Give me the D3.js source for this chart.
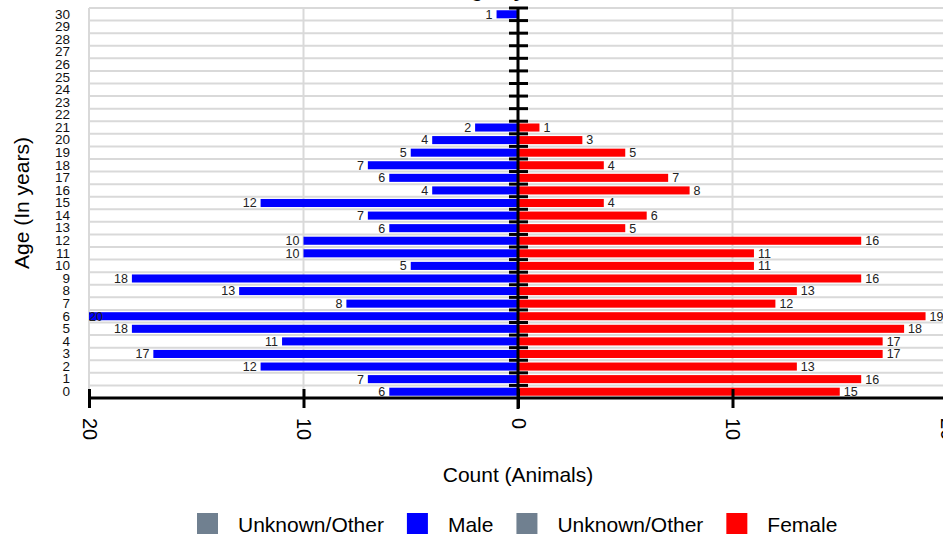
<!DOCTYPE html>
<html>
<head>
<meta charset="utf-8">
<script src="https://cdn.jsdelivr.net/npm/d3@7"></script>
<style>
  body { margin: 0; background: #fff; }
  svg { display: block; font-family: "Liberation Sans", Arial, sans-serif; }
</style>
</head>
<body>
<div id="staticBody"></div>
<script>
var ages = d3.range(0, 31)
var male = [6, 7, 12, 17, 11, 18, 20, 8, 13, 18, 5, 10, 10, 6, 7, 12, 4, 6, 7, 5, 4, 2, 0, 0, 0, 0, 0, 0, 0, 0, 1]
var female = [15, 16, 13, 17, 17, 18, 19, 12, 13, 16, 11, 11, 16, 5, 6, 4, 8, 7, 4, 5, 3, 1, 0, 0, 0, 0, 0, 0, 0, 0, 0]
var xTicks = [-20, -10, 0, 10, 20]
var legendLabels = ["Unknown/Other", "Male", "Unknown/Other", "Female"]
var legendColors = ["#708090", "#0000ff", "#708090", "#ff0000"]

var width = 943, height = 537
var margin = { top: 8, left: 89, bottom: 139 }
var plotBottom = height - margin.bottom

var svg = d3.select('#staticBody').append('svg')
    .attr('width', width)
    .attr('height', height)

var x = d3.scaleLinear()
    .domain([-20, 20])
    .range([margin.left, 947])

var y = d3.scaleBand()
    .domain(ages.slice().reverse())
    .range([margin.top, plotBottom])
    .paddingInner(0.36)
    .paddingOuter(0.18)

var step = y.step()

// title, mostly above the visible area
svg.append("text")
    .attr("x", x(0))
    .attr("y", -3)
    .attr("text-anchor", "middle")
    .style("font-size", "20px")
    .style("font-weight", "bold")
    .text("Age Pyramid")

// grid
var grid = svg.append("g")
grid.selectAll("line.h")
    .data(d3.range(0, ages.length))
    .enter().append("line")
    .attr("x1", margin.left)
    .attr("x2", width)
    .attr("y1", function(d){ return margin.top + d * step; })
    .attr("y2", function(d){ return margin.top + d * step; })
    .attr("stroke", "#d9d9d9")
    .attr("stroke-width", 2)
grid.selectAll("line.v")
    .data(xTicks.filter(function(d){ return d != 0; }))
    .enter().append("line")
    .attr("x1", function(d){ return x(d); })
    .attr("x2", function(d){ return x(d); })
    .attr("y1", margin.top)
    .attr("y2", plotBottom)
    .attr("stroke", "#d9d9d9")
    .attr("stroke-width", 2)

// bars
svg.selectAll("rect.male")
    .data(ages.filter(function(a){ return male[a] > 0; }))
    .enter().append("rect")
    .attr("x", function(a){ return x(-male[a]); })
    .attr("y", function(a){ return y(a); })
    .attr("width", function(a){ return x(0) - x(-male[a]); })
    .attr("height", y.bandwidth())
    .attr("fill", "#0000ff")

svg.selectAll("rect.female")
    .data(ages.filter(function(a){ return female[a] > 0; }))
    .enter().append("rect")
    .attr("x", x(0))
    .attr("y", function(a){ return y(a); })
    .attr("width", function(a){ return x(female[a]) - x(0); })
    .attr("height", y.bandwidth())
    .attr("fill", "#ff0000")

// value labels
svg.selectAll("text.mlab")
    .data(ages.filter(function(a){ return male[a] > 0; }))
    .enter().append("text")
    .attr("class", "mlab")
    .attr("y", function(a){ return y(a) + y.bandwidth() / 2; })
    .attr("dy", "0.35em")
    .style("font-size", "12.5px")
    .style("fill", "#222")
    .text(function(a){ return male[a]; })
    .each(function(a){
        var w = this.getComputedTextLength()
        var xe = x(-male[a]) - 4
        if (xe - w < margin.left) {
            d3.select(this).attr("x", margin.left).attr("text-anchor", "start")
        } else {
            d3.select(this).attr("x", xe).attr("text-anchor", "end")
        }
    })

svg.selectAll("text.flab")
    .data(ages.filter(function(a){ return female[a] > 0; }))
    .enter().append("text")
    .attr("class", "flab")
    .attr("x", function(a){ return x(female[a]) + 4; })
    .attr("y", function(a){ return y(a) + y.bandwidth() / 2; })
    .attr("dy", "0.35em")
    .style("font-size", "12.5px")
    .style("fill", "#222")
    .text(function(a){ return female[a]; })

// center axis with ticks at band edges
svg.append("line")
    .attr("x1", x(0)).attr("x2", x(0))
    .attr("y1", margin.top - 1).attr("y2", plotBottom + 11)
    .attr("stroke", "#000").attr("stroke-width", 3)
svg.selectAll("line.ctick")
    .data(d3.range(0, ages.length))
    .enter().append("line")
    .attr("x1", x(0) - 9).attr("x2", x(0) + 10)
    .attr("y1", function(d){ return margin.top + d * step; })
    .attr("y2", function(d){ return margin.top + d * step; })
    .attr("stroke", "#000").attr("stroke-width", 3)

// y axis labels
var yAxis = d3.axisLeft(y).tickSize(0).tickPadding(0)
var yg = svg.append("g")
    .attr("transform", "translate(" + (margin.left - 19) + ",0)")
    .call(yAxis)
yg.select(".domain").remove()
yg.selectAll("text")
    .style("font-family", "'Liberation Sans Narrow', 'Liberation Sans', Arial, sans-serif")
    .style("font-size", "13.5px")
    .style("fill", "#111")

// x axis
var xAxis = d3.axisBottom(x).tickValues(xTicks).tickSize(0).tickFormat(function(d){ return Math.abs(d); })
var xg = svg.append("g")
    .attr("transform", "translate(0," + plotBottom + ")")
    .call(xAxis)
xg.select(".domain").remove()
xg.append("line")
    .attr("x1", margin.left).attr("x2", width)
    .attr("y1", 0).attr("y2", 0)
    .attr("stroke", "#000").attr("stroke-width", 3)
xg.selectAll(".tick").append("line")
    .attr("y1", -9).attr("y2", 10)
    .attr("stroke", "#000").attr("stroke-width", 3)
xg.selectAll(".tick text")
    .attr("transform", "rotate(90)")
    .attr("x", 20)
    .attr("y", 0)
    .attr("dy", "0.35em")
    .attr("text-anchor", "start")
    .style("font-size", "20px")
    .style("fill", "#000")

// axis titles
svg.append("text")
    .attr("x", x(0))
    .attr("y", 482)
    .attr("text-anchor", "middle")
    .style("font-size", "21px")
    .text("Count (Animals)")

svg.append("text")
    .attr("transform", "translate(29," + ((margin.top + plotBottom) / 2) + ")rotate(-90)")
    .attr("text-anchor", "middle")
    .style("font-size", "21px")
    .text("Age (In years)")

// legend
var legend = svg.append("g")
var lx = 197
legendLabels.forEach(function(lbl, i) {
    legend.append("rect")
        .attr("x", lx).attr("y", 513)
        .attr("width", 21).attr("height", 21)
        .attr("fill", legendColors[i])
    var t = legend.append("text")
        .attr("x", lx + 41).attr("y", 532)
        .style("font-size", "21px")
        .text(lbl)
    lx = lx + 41 + t.node().getComputedTextLength() + 23
})
</script>
</body>
</html>
